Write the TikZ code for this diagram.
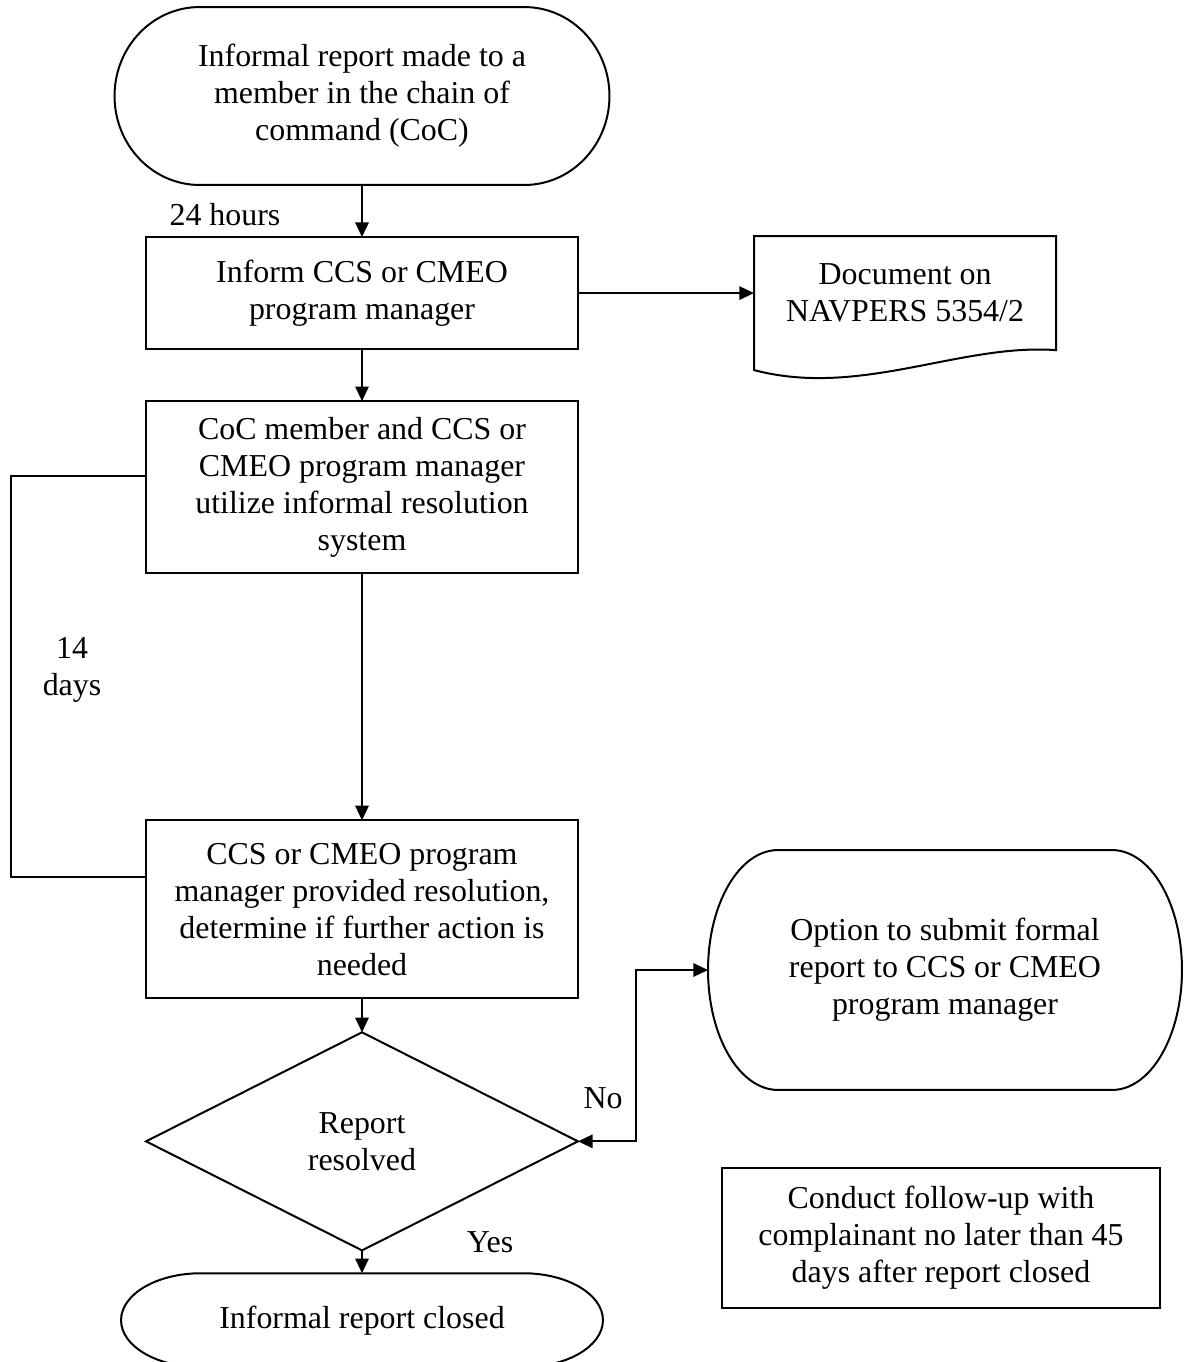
\documentclass[tikz,border=0pt]{standalone}
\usepackage{fontspec}
\setmainfont{Liberation Serif}
\usetikzlibrary{positioning,shapes.geometric,arrows.meta}

\begin{document}
\begin{tikzpicture}[x=0.376pt, y=-0.376pt, node distance=19.6pt,
                    line width=0.75pt, >={Triangle[length=5.5pt,width=5pt]},
                    every node/.style={font=\fontsize{12}{13.9}\selectfont,align=center,inner sep=0pt,outer sep=0pt},
                    boxnode/.style={rectangle,draw,minimum width=162.4pt},
                    docnode/.style={rectangle,minimum width=113.6pt,minimum height=42.9pt},
                    decide/.style={diamond,draw,minimum width=162.4pt,minimum height=82pt}]

\useasboundingbox (0,0) rectangle (1185,1362);

\node[minimum width=186.1pt,minimum height=66.9pt] (start) at (362,96) {Informal report made to a\\member in the chain of\\command (CoC)};
\node[boxnode,minimum height=42.1pt] (inform) [below=of start] {Inform CCS or CMEO\\program manager};
\node[docnode] (doc) [right=66.2pt of inform] {Document on\\NAVPERS 5354/2};
\node[boxnode,minimum height=64.7pt] (resolve) [below=of inform] {CoC member and CCS or\\CMEO program manager\\utilize informal resolution\\system};
\node[boxnode,minimum height=66.9pt] (provide) [below=92.9pt of resolve] {CCS or CMEO program\\manager provided resolution,\\determine if further action is\\needed};
\node[decide] (resolved) [below=12.8pt of provide] {Report\\resolved};
\node[minimum width=181.2pt,minimum height=35.3pt] (closed) [below=8.6pt of resolved] {Informal report closed};
\node[minimum width=178.2pt,minimum height=90.2pt] (option) at (945,970) {Option to submit formal\\report to CCS or CMEO\\program manager};
\node[boxnode,minimum width=164.7pt,minimum height=52.3pt] (followup) at (941,1238) {Conduct follow-up with\\complainant no later than 45\\days after report closed};

\node (hours) at (225,215) {24 hours};
\node (days) at (72,670) {14\\days};
\node (no) at (603,1098) {No};
\node (yes) at (490,1242) {Yes};

% terminal and document outlines
\draw ([xshift=32pt]start.north west) -- ([xshift=-32pt]start.north east)
    arc[start angle=90,end angle=-90,x radius=32pt,y radius=33.45pt]
    -- ([xshift=32pt]start.south west)
    arc[start angle=270,end angle=90,x radius=32pt,y radius=33.45pt] -- cycle;
\draw ([xshift=26.3pt]option.north west) -- ([xshift=-26.3pt]option.north east)
    arc[start angle=90,end angle=-90,x radius=26.3pt,y radius=45.1pt]
    -- ([xshift=26.3pt]option.south west)
    arc[start angle=270,end angle=90,x radius=26.3pt,y radius=45.1pt] -- cycle;
\draw ([xshift=30pt]closed.north west) -- ([xshift=-30pt]closed.north east)
    arc[start angle=90,end angle=-90,x radius=30pt,y radius=17.65pt]
    -- ([xshift=30pt]closed.south west)
    arc[start angle=270,end angle=90,x radius=30pt,y radius=17.65pt] -- cycle;
\draw (doc.north west) -- (doc.north east) -- (doc.south east)
    .. controls +(-96,-7) and +(106,28) .. ([yshift=-7.5pt]doc.south west) -- cycle;

% connectors
\draw[->] (start) -- (inform);
\draw[->] (inform) -- (doc);
\draw[->] (inform) -- (resolve);
\draw[->] (resolve) -- (provide);
\draw[->] (provide) -- (resolved);
\draw[->] (resolved) -- (closed);

\coordinate (noX) at ([xshift=21.8pt]resolved.east);
\draw[<->] (option.west) -| (noX) -- (resolved.east);

\coordinate (loopTop) at (11,476);
\coordinate (loopBot) at (11,877);
\draw (resolve.west |- loopTop) -- (loopTop) -- (loopBot) -- (provide.west |- loopBot);
\end{tikzpicture}
\end{document}
